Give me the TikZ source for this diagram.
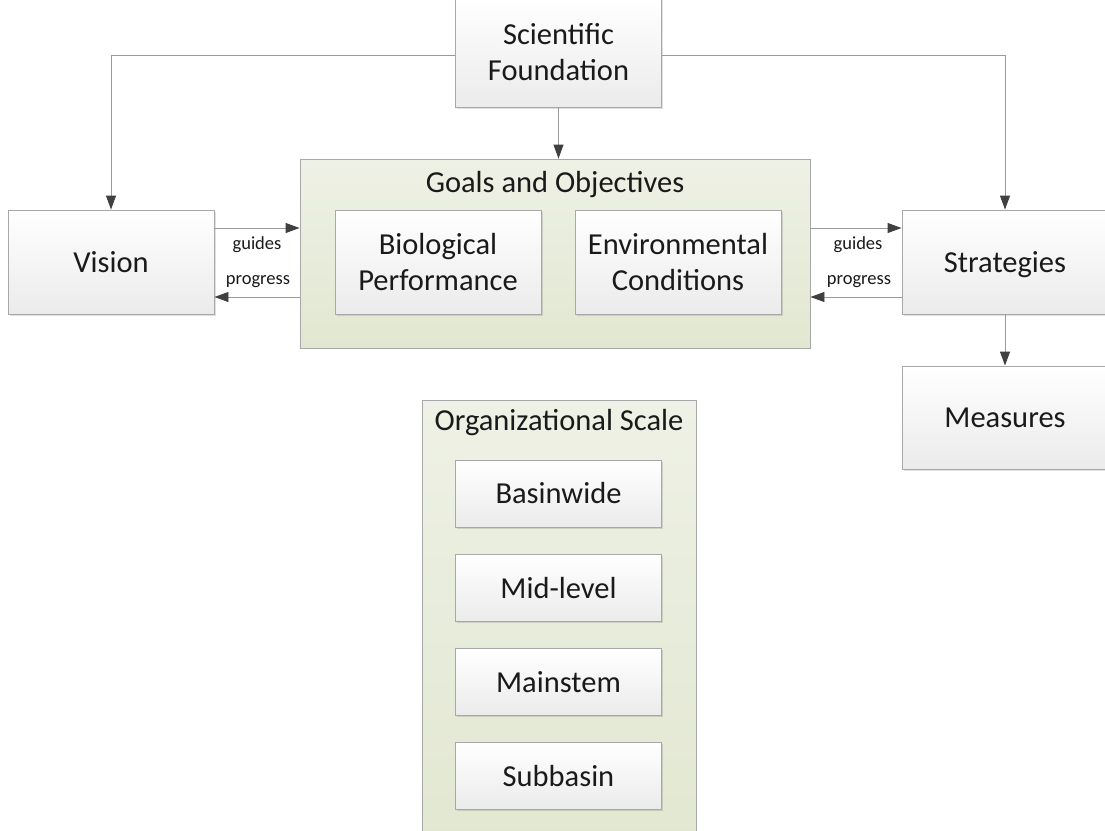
\documentclass[tikz,border=0pt]{standalone}
\usepackage{fontspec}
\setmainfont{Carlito}
\usetikzlibrary{arrows.meta,shadows,calc}
\definecolor{boxline}{HTML}{A8A8A8}
\definecolor{boxbot}{HTML}{EBEBEB}
\definecolor{grtop}{HTML}{EEF1E5}
\definecolor{grbot}{HTML}{E2E7D1}
\definecolor{conline}{HTML}{9A9A9A}
\definecolor{tipcol}{HTML}{404040}
\definecolor{txt}{HTML}{1A1A1A}
\tikzset{
  wbox/.style={draw=boxline, line width=0.9pt, top color=white, bottom color=boxbot,
    rectangle, align=center, text=txt, font=\fontsize{30.5}{36}\selectfont,
    minimum width=206pt, inner sep=0pt,
    drop shadow={shadow xshift=1.5pt, shadow yshift=-1.8pt, fill=black, opacity=0.12}},
  gbox/.style={draw=boxline, line width=0.9pt, top color=grtop, bottom color=grbot,
    rectangle, inner sep=0pt},
  ttl/.style={text=txt, font=\fontsize{30.5}{36}\selectfont},
  small/.style={text=txt, font=\fontsize{18.5}{22}\selectfont},
  conn/.style={draw=conline, line width=0.9pt, -{Triangle[length=14pt,width=10pt,color=tipcol]}}
}
\begin{document}
\begin{tikzpicture}[x=1pt,y=-1pt]
\clip (0,0) rectangle (1105,830);
\fill[white] (0,0) rectangle (1105,830);
% containers
\node[gbox, minimum width=510pt, minimum height=189pt] (goals) at (555,253.5) {};
\node[ttl] (goalst) at (555,185) {Goals and Objectives};
\node[gbox, minimum width=274pt, minimum height=450pt] (org) at (559,625) {};
\node[ttl] (orgt) at (559,423) {Organizational Scale};
% boxes
\node[wbox, minimum height=110pt] (sf) at (558.5,52) {Scientific\\Foundation};
\node[wbox, minimum height=104pt] (vision) at (111,262) {Vision};
\node[wbox, minimum height=104pt] (bio) at (438,262) {Biological\\Performance};
\node[wbox, minimum height=104pt] (env) at (678,262) {Environmental\\Conditions};
\node[wbox, minimum height=104pt, text depth=0pt] (str) at (1005,262) {Strategies};
\node[wbox, minimum height=103pt] (meas) at (1005,417.5) {Measures};
\node[wbox, minimum height=67pt] (basin) at (558.5,493.5) {Basinwide};
\node[wbox, minimum height=67pt] (mid) at (558.5,588) {Mid-level};
\node[wbox, minimum height=67pt] (main) at (558.5,682) {Mainstem};
\node[wbox, minimum height=67pt] (sub) at (558.5,776) {Subbasin};
% connectors
\draw[conn] ([yshift=-3pt]sf.west) -| (vision.north);
\draw[conn] ([yshift=-3pt]sf.east) -| (str.north);
\draw[conn] (sf.south) -- (goals.north -| sf.south);
\draw[conn] ([yshift=34pt]vision.east) -- ([yshift=34pt]vision.east -| goals.west);
\draw[conn] ([yshift=-35pt]vision.east -| goals.west) -- ([yshift=-35pt]vision.east);
\draw[conn] ([yshift=34pt]str.west -| goals.east) -- ([yshift=34pt]str.west);
\draw[conn] ([yshift=-35pt]str.west) -- ([yshift=-35pt]str.west -| goals.east);
\draw[conn] (str.south) -- (meas.north);
% labels
\node[small] (g1) at (257,245) {guides};
\node[small] (p1) at (258,282) {progress};
\node[small] (g2) at (858,245) {guides};
\node[small] (p2) at (859,282) {progress};
\end{tikzpicture}
\end{document}
